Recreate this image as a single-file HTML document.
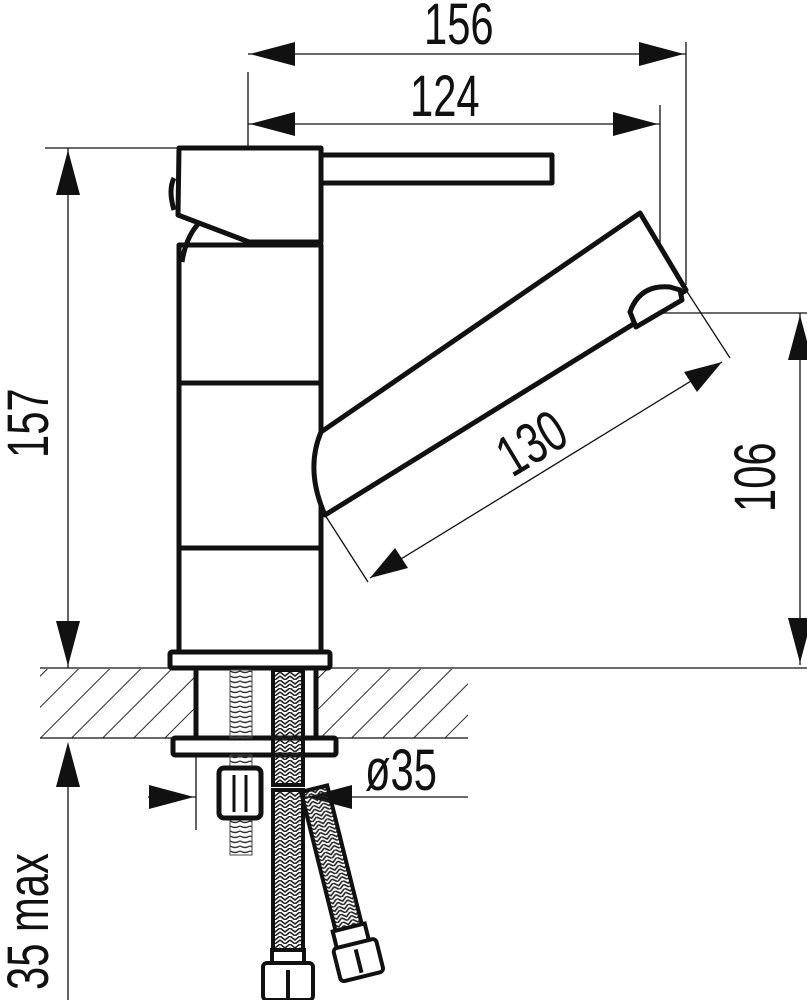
<!DOCTYPE html>
<html><head><meta charset="utf-8"><style>
html,body{margin:0;padding:0;background:#fff;}
svg{display:block}
text{font-family:"Liberation Sans",sans-serif;fill:#111;}
</style></head><body>
<svg width="807" height="1000" viewBox="0 0 807 1000" xmlns="http://www.w3.org/2000/svg">
<defs>
<pattern id="hatch" patternUnits="userSpaceOnUse" width="22" height="22" patternTransform="rotate(45)">
<line x1="0" y1="0" x2="0" y2="22" stroke="#111" stroke-width="1.8"/>
</pattern>
<pattern id="braid" patternUnits="userSpaceOnUse" width="10" height="8">
<path d="M0,0 L5,4 L10,0 M0,4 L5,8 L10,4" stroke="#222" stroke-width="1.6" fill="none"/>
</pattern>
<pattern id="thread" patternUnits="userSpaceOnUse" width="10" height="5">
<path d="M0,1 Q5,4 10,1" stroke="#333" stroke-width="1.4" fill="none"/>
</pattern>
</defs>

<g stroke="#111" stroke-width="1.3" fill="none">
<line x1="248" y1="72" x2="248" y2="510"/>
<line x1="686" y1="42" x2="686" y2="285"/>
<line x1="660" y1="105" x2="660" y2="315"/>
<line x1="660" y1="313" x2="807" y2="313"/>
<line x1="248" y1="54" x2="686" y2="54"/>
<line x1="248" y1="124" x2="660" y2="124"/>
<line x1="45" y1="148" x2="180" y2="148"/>
<line x1="68" y1="148" x2="68" y2="668"/>
<line x1="800" y1="313" x2="800" y2="665"/>
<line x1="686" y1="290" x2="730" y2="358"/>
<line x1="325" y1="515" x2="368" y2="582"/>
<line x1="370" y1="578" x2="722" y2="362"/>
<line x1="40" y1="668" x2="807" y2="668"/>
<line x1="68" y1="745" x2="68" y2="1000"/>
<line x1="196" y1="738" x2="196" y2="830"/>
<line x1="148" y1="797" x2="196" y2="797"/>
<line x1="305" y1="797" x2="468" y2="797"/>
</g>
<g fill="#111">
<polygon points="250,54 295,42 295,66"/>
<polygon points="684,54 639,42 639,66"/>
<polygon points="250,124 295,112 295,136"/>
<polygon points="658,124 613,112 613,136"/>
<polygon points="68,150 56,195 80,195"/>
<polygon points="68,666 56,621 80,621"/>
<polygon points="800,315 788,360 812,360"/>
<polygon points="800,663 788,618 812,618"/>
<polygon points="722,362 684,372 697,392"/>
<polygon points="370,578 395,548 408,568"/>
<polygon points="68,742 56,787 80,787"/>
<polygon points="194,797 149,785 149,809"/>
<polygon points="307,797 352,785 352,809"/>
</g>
<g font-size="58">
<text transform="translate(424,44) scale(0.72,1)">156</text>
<text transform="translate(410,116) scale(0.72,1)">124</text>
<text transform="translate(48,458) rotate(-90) scale(0.72,1)">157</text>
<text transform="translate(775,512) rotate(-90) scale(0.72,1)">106</text>
<text transform="translate(512,478) rotate(-31) scale(0.72,1)">130</text>
<text transform="translate(365,790) scale(0.72,1)">ø35</text>
<text transform="translate(48,990) rotate(-90) scale(0.72,1)">35 max</text>
</g>

<rect x="40" y="669" width="428" height="69" fill="url(#hatch)"/>
<rect x="196" y="669" width="120" height="69" fill="#fff"/>
<line x1="40" y1="738" x2="468" y2="738" stroke="#111" stroke-width="1.3"/>

<g stroke="#111" stroke-width="5" fill="#fff" stroke-linejoin="round">
<rect x="179" y="245" width="142" height="408"/>
<line x1="179" y1="383" x2="321" y2="383"/>
<line x1="179" y1="548" x2="321" y2="548"/>
<path d="M321,432 L640,213 L686,290 L678,296 L640,320 L325,515 Q305,470 321,432 Z"/>
<path d="M630,312 Q640,284 670,287 L680,290 L682,300 L636,327 Z"/>
<path d="M182,262 Q186,236 200,222" fill="none"/>
<rect x="321" y="155" width="231" height="28"/>
<path d="M179,148 L321,148 L321,242 L249,242 L178,215 Z"/>
<path d="M174,178 Q168,190 174,210" fill="none"/>
<rect x="170" y="652" width="160" height="16" rx="2"/>
<line x1="196" y1="668" x2="196" y2="738"/>
<line x1="316" y1="668" x2="316" y2="738"/>
<rect x="173" y="738" width="163" height="17" rx="2"/>
</g>
<rect x="230" y="670" width="22" height="68" fill="url(#thread)" stroke="#444" stroke-width="1"/>
<rect x="230" y="755" width="22" height="100" fill="url(#thread)" stroke="#444" stroke-width="1"/>
<rect x="219" y="768" width="42" height="50" rx="5" fill="#fff" stroke="#111" stroke-width="5"/>
<line x1="234" y1="775" x2="234" y2="812" stroke="#111" stroke-width="3"/>
<line x1="246" y1="775" x2="246" y2="812" stroke="#111" stroke-width="3"/>
<g stroke="#111" stroke-width="4">
<rect x="273" y="670" width="30" height="115" fill="url(#braid)"/>
<rect x="273" y="790" width="30" height="168" fill="url(#braid)"/>
<g transform="rotate(-14 301 792)">
<rect x="301" y="792" width="27" height="148" fill="url(#braid)"/>
<rect x="298" y="935" width="33" height="18" fill="#fff"/>
<rect x="294" y="952" width="44" height="34" rx="4" fill="#fff"/>
<line x1="316" y1="958" x2="316" y2="982"/>
</g>
<rect x="272" y="950" width="32" height="14" fill="#fff"/>
<rect x="263" y="963" width="50" height="37" rx="4" fill="#fff"/>
<line x1="288" y1="970" x2="288" y2="1000"/>
</g>
</svg>
</body></html>
